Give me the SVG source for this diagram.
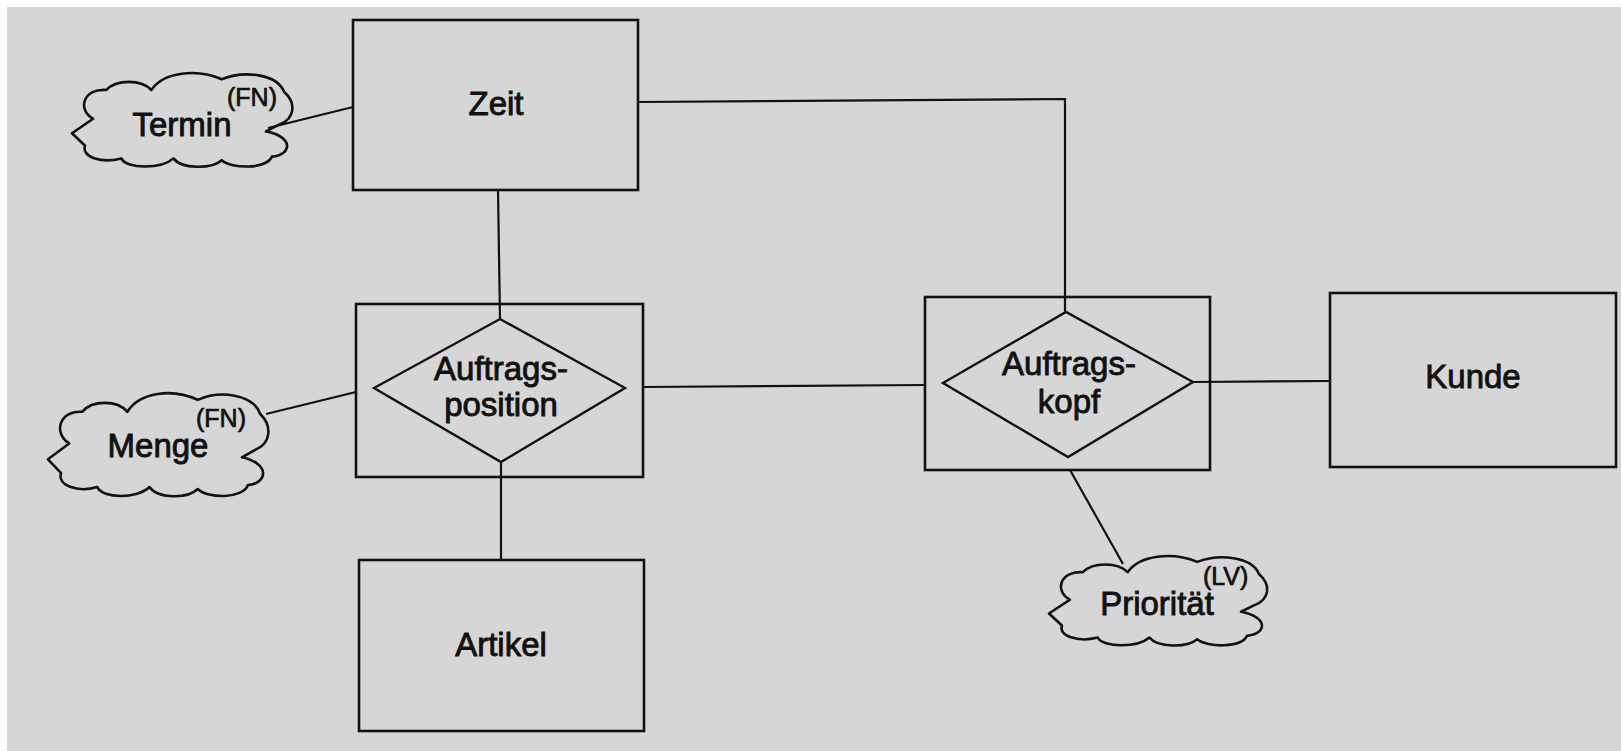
<svg xmlns="http://www.w3.org/2000/svg" width="1621" height="751" viewBox="0 0 1621 751">
<style>
.box{fill:none;stroke:#111;stroke-width:2.6}
.dia{fill:none;stroke:#111;stroke-width:2.4;stroke-linejoin:miter}
.cloud{fill:none;stroke:#111;stroke-width:2.6;stroke-linejoin:round}
.con{fill:none;stroke:#111;stroke-width:2.2}
.t{font-family:"Liberation Sans",Arial,sans-serif;font-size:33px;fill:#111;stroke:#111;stroke-width:0.9;text-anchor:middle}
.s{font-family:"Liberation Sans",Arial,sans-serif;font-size:25px;fill:#111;stroke:#111;stroke-width:0.7}
</style>
<defs>
<path id="cloudShape" class="cloud" vector-effect="non-scaling-stroke" d="M 22,52 C 6,42 12,18 35,20 C 45,8 70,8 80,20 C 92,0 125,-4 150,8 C 172,-2 205,2 212,22 C 225,35 222,52 208,58 L 194,66 C 222,72 220,92 200,94 C 195,108 160,108 150,98 C 140,108 110,108 102,96 C 90,108 55,108 50,96 C 30,102 10,94 14,82 L 1,68 Z"/>
</defs>
<rect x="0" y="0" width="1621" height="751" fill="#ffffff"/>
<rect x="7" y="7" width="1614" height="744" fill="#d6d6d6"/>

<g id="connectors">
<polyline class="con" points="638,102 1065,99 1065,312"/>
<line class="con" x1="498" y1="190" x2="500" y2="319"/>
<line class="con" x1="501" y1="462" x2="501" y2="560"/>
<line class="con" x1="643" y1="387" x2="925" y2="385"/>
<line class="con" x1="1193" y1="382" x2="1330" y2="381"/>
<line class="con" x1="266" y1="414" x2="356" y2="392"/>
<line class="con" x1="268" y1="128" x2="353" y2="107"/>
<line class="con" x1="1070" y1="470" x2="1123" y2="564"/>
</g>

<g id="zeit">
<rect class="box" x="353" y="20" width="285" height="170"/>
<text class="t" x="496" y="115">Zeit</text>
</g>

<g id="auftragsposition">
<rect class="box" x="356" y="304" width="287" height="173"/>
<polygon class="dia" points="374,388 500,319 625,388 501,462"/>
<text class="t" x="501" y="380">Auftrags-</text>
<text class="t" x="501" y="416">position</text>
</g>

<g id="artikel">
<rect class="box" x="359" y="560" width="285" height="171"/>
<text class="t" x="501" y="656">Artikel</text>
</g>

<g id="auftragskopf">
<rect class="box" x="925" y="297" width="285" height="173"/>
<polygon class="dia" points="943,383 1066,312 1193,382 1068,457"/>
<text class="t" x="1069" y="375">Auftrags-</text>
<text class="t" x="1069" y="413">kopf</text>
</g>

<g id="kunde">
<rect class="box" x="1330" y="293" width="286" height="174"/>
<text class="t" x="1473" y="388">Kunde</text>
</g>

<g id="termin">
<use href="#cloudShape" transform="translate(71,72) scale(1.005,0.9)"/>
<text class="t" x="182" y="136">Termin</text>
<text class="s" x="227" y="106">(FN)</text>
</g>

<g id="menge">
<use href="#cloudShape" transform="translate(47,392) scale(1.005,0.99)"/>
<text class="t" x="158" y="457">Menge</text>
<text class="s" x="196" y="427">(FN)</text>
</g>

<g id="prioritaet">
<use href="#cloudShape" transform="translate(1048,555) scale(0.995,0.86)"/>
<text class="t" x="1157" y="615">Priorität</text>
<text class="s" x="1203" y="585">(LV)</text>
</g>
</svg>
